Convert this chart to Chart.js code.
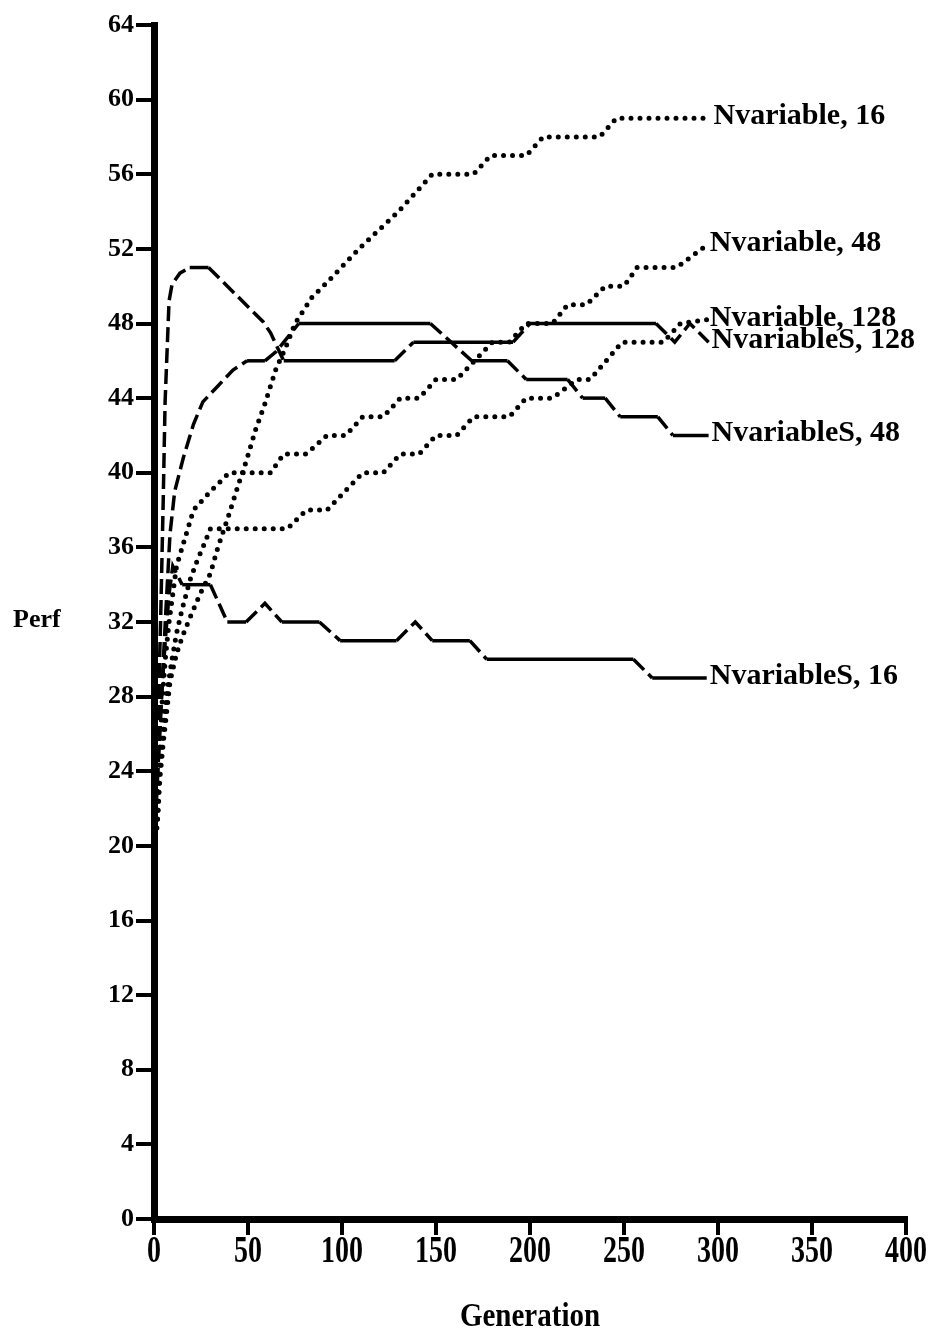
<!DOCTYPE html>
<html>
<head>
<meta charset="utf-8">
<script src="https://cdn.jsdelivr.net/npm/chart.js@4.4.1/dist/chart.umd.min.js"></script>
<style>
  html, body { margin: 0; padding: 0; background: #fff; }
  #wrap { width: 933px; height: 1333px; }
</style>
</head>
<body>
<div id="wrap"><canvas id="perfChart" width="933" height="1333"></canvas></div>
<script>
// Performance per generation for each run (generation, perf pairs)
const nv16Gen   = [0, 2, 3, 5, 7, 8.5, 12, 15, 19, 24.5, 30, 34, 40, 45, 49, 54, 59, 65, 70, 75, 84, 92, 110, 130, 148, 170, 179, 198, 207, 237, 246, 296];
const nv16Perf  = [20, 21.5, 23.5, 25.6, 27.4, 28.8, 30.3, 31.2, 32.2, 33.5, 34.6, 36, 37.8, 39.4, 40.6, 42.3, 43.7, 45.6, 46.7, 48, 49.4, 50.2, 52.1, 54, 56, 56, 57, 57, 58, 58, 59, 59];

const nv48Gen   = [0, 1.5, 3, 4.5, 6, 8, 10, 12, 15, 21, 30, 40, 62, 69, 81, 92, 102, 111, 122, 131, 141, 150, 161, 180, 189, 198, 212, 220, 230, 240, 250, 257, 278, 294];
const nv48Perf  = [20, 22, 25, 28, 30, 32, 33.5, 35, 36, 38, 39, 40, 40, 41, 41, 42, 42, 43, 43, 44, 44, 45, 45, 47, 47, 48, 48, 49, 49, 50, 50, 51, 51, 52.2];

const nv128Gen  = [0, 1.6, 3, 5, 7, 9.6, 12, 15, 19, 23, 26, 30, 71, 81, 92, 111, 122, 131, 141, 150, 161, 170, 189, 198, 212, 225, 232, 249, 271, 280, 294];
const nv128Perf = [20, 21, 23.9, 26.4, 28.3, 30, 31.4, 32.7, 34.2, 35.3, 36, 37, 37, 38, 38, 40, 40, 41, 41, 42, 42, 43, 43, 44, 44, 45, 45, 47, 47, 48, 48.2];

const nvS128Gen  = [0, 2, 3.5, 4.9, 5.9, 8, 9.6, 13.8, 19, 29, 58, 62, 69, 128, 138, 191, 200, 267, 277, 285, 295];
const nvS128Perf = [20, 26, 32, 38.5, 43.8, 49.2, 50.1, 50.7, 51, 51, 48.1, 47.5, 46, 46, 47, 47, 48, 48, 47, 48, 47];

const nvS48Gen  = [0, 2, 4, 6, 8.5, 11, 15.6, 21, 26, 33.5, 42, 49.5, 59, 65, 77, 147, 169, 188, 198, 220, 228, 240, 248, 268, 276, 295];
const nvS48Perf = [20, 24, 28, 32, 36.7, 39, 40.8, 42.6, 43.8, 44.6, 45.5, 46, 46, 46.5, 48, 48, 46, 46, 45, 45, 44, 44, 43, 43, 42, 42];

const nvS16Gen  = [0, 2, 4, 6, 8, 10, 15, 30, 39, 49, 59, 68, 88, 99, 129, 139, 148, 168, 177, 255, 265, 294];
const nvS16Perf = [20, 24, 28, 31, 33.5, 35, 34, 34, 32, 32, 33, 32, 32, 31, 31, 32, 31, 31, 30, 30, 29, 29];

const seriesLabels = ['Nvariable, 16', 'Nvariable, 48', 'Nvariable, 128', 'NvariableS, 128', 'NvariableS, 48', 'NvariableS, 16'];
const xTitle = 'Generation';
const yTitle = 'Perf';

const serif = '"Liberation Serif", "Times New Roman", serif';

function toPoints(gens, perf) {
  return gens.map((g, i) => ({ x: g, y: perf[i] }));
}

// dotted runs: round caps on zero-length dashes
function dotted(label, gens, perf) {
  return {
    label, data: toPoints(gens, perf),
    borderColor: '#000', borderWidth: 5,
    borderDash: [0, 9], borderCapStyle: 'round',
    pointRadius: 0, tension: 0, clip: false
  };
}

// dashed runs: plateaus solid, changes dashed
function dashed(label, gens, perf) {
  return {
    label, data: toPoints(gens, perf),
    borderColor: '#000', borderWidth: 3.5,
    pointRadius: 0, tension: 0, clip: false,
    segment: {
      borderDash: ctx => (ctx.p0.parsed.y === ctx.p1.parsed.y ? [] : [15, 6])
    }
  };
}

const datasets = [
  dotted(seriesLabels[0], nv16Gen, nv16Perf),
  dotted(seriesLabels[1], nv48Gen, nv48Perf),
  dotted(seriesLabels[2], nv128Gen, nv128Perf),
  dashed(seriesLabels[3], nvS128Gen, nvS128Perf),
  dashed(seriesLabels[4], nvS48Gen, nvS48Perf),
  dashed(seriesLabels[5], nvS16Gen, nvS16Perf)
];

// draws text stretched vertically around its baseline
function tallText(ctx, text, x, y, stretch) {
  ctx.save();
  ctx.translate(x, y);
  ctx.scale(1, stretch);
  ctx.fillText(text, 0, 0);
  ctx.restore();
}

// run names at the curve ends, tall x tick labels, and both axis titles
const textLayer = {
  id: 'textLayer',
  afterDraw(chart) {
    const ctx = chart.ctx;
    const xs = chart.scales.x;
    const ys = chart.scales.y;
    ctx.save();
    ctx.fillStyle = '#000';
    ctx.textBaseline = 'alphabetic';

    ctx.font = 'bold 30px ' + serif;
    ctx.textAlign = 'left';
    chart.data.datasets.forEach((ds, i) => {
      const pts = chart.getDatasetMeta(i).data;
      const p = pts[pts.length - 1];
      ctx.fillText(ds.label, p.x + 3, p.y + 6);
    });

    ctx.font = 'bold 28px ' + serif;
    ctx.textAlign = 'center';
    xs.ticks.forEach(t => {
      tallText(ctx, String(t.value), xs.getPixelForValue(t.value), xs.top + 43, 1.35);
    });

    ctx.font = 'bold 29px ' + serif;
    tallText(ctx, xTitle, (chart.chartArea.left + chart.chartArea.right) / 2, 1326, 1.15);

    ctx.font = 'bold 26px ' + serif;
    ctx.textAlign = 'left';
    ctx.textBaseline = 'middle';
    ctx.fillText(yTitle, 13, ys.getPixelForValue(32) - 2);
    ctx.restore();
  }
};

const whiteBg = {
  id: 'whiteBg',
  beforeDraw(chart) {
    const c = chart.ctx;
    c.save();
    c.fillStyle = '#fff';
    c.fillRect(0, 0, chart.width, chart.height);
    c.restore();
  }
};

new Chart(document.getElementById('perfChart'), {
  type: 'line',
  data: { datasets },
  options: {
    responsive: false,
    animation: false,
    devicePixelRatio: 1,
    layout: { padding: { left: 0, top: 25, right: 27, bottom: 0 } },
    plugins: { legend: { display: false }, tooltip: { enabled: false } },
    scales: {
      x: {
        type: 'linear', min: 0, max: 400,
        ticks: { display: false, stepSize: 50, autoSkip: false, maxRotation: 0 },
        grid: { drawOnChartArea: false, drawTicks: true, tickLength: 16, lineWidth: 4, color: '#000' },
        border: { display: true, width: 7, color: '#000' },
        title: { display: false },
        afterFit(scale) { scale.height = 114; scale.paddingLeft = 0; scale.paddingRight = 0; }
      },
      y: {
        min: 0, max: 64,
        ticks: {
          stepSize: 4, autoSkip: false, padding: 2,
          color: '#000', font: { family: serif, weight: 'bold', size: 26 }
        },
        grid: { drawOnChartArea: false, drawTicks: true, tickLength: 18, lineWidth: 4, color: '#000' },
        border: { display: true, width: 7, color: '#000' },
        afterFit(scale) { scale.width = 154; scale.paddingTop = 0; scale.paddingBottom = 0; }
      }
    }
  },
  plugins: [whiteBg, textLayer]
});
</script>
</body>
</html>
